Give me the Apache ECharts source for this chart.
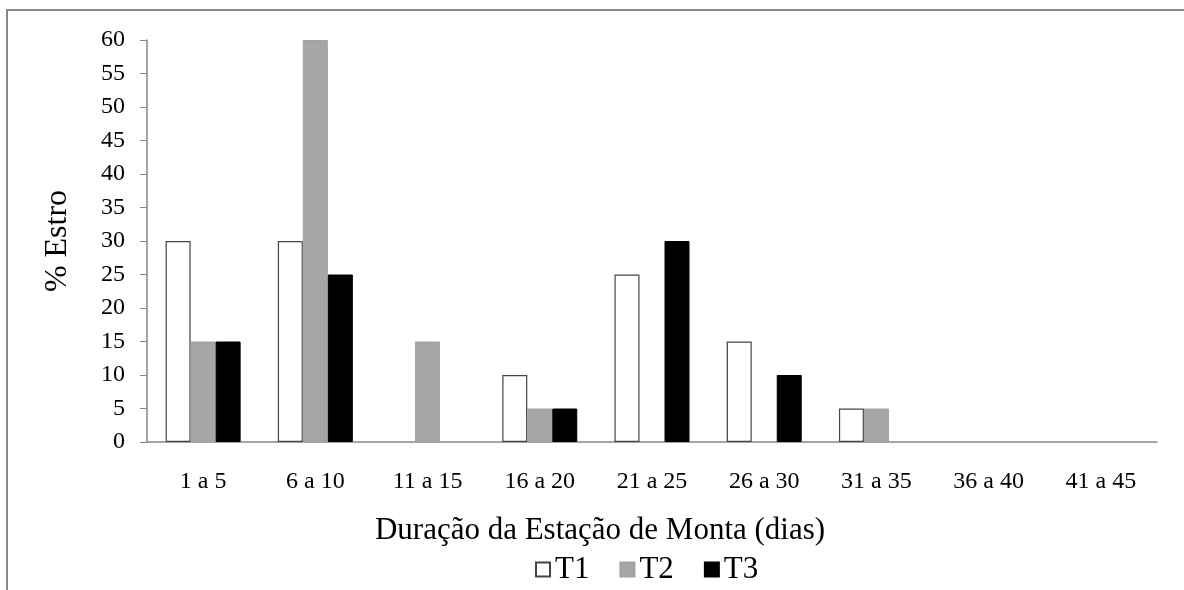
<!DOCTYPE html>
<html><head><meta charset="utf-8">
<script src="https://cdn.jsdelivr.net/npm/echarts@6/dist/echarts.min.js"></script>
<style>html,body{margin:0;padding:0;background:#fff}#c{width:1184px;height:590px}</style>
</head><body><div id="c"></div>
<script>
const categories = ['1 a 5','6 a 10','11 a 15','16 a 20','21 a 25','26 a 30','31 a 35','36 a 40','41 a 45'];
const t1 = [30,30,0,10,25,15,5,0,0];
const t2 = [15,60,15,5,0,0,5,0,0];
const t3 = [15,25,0,5,30,10,0,0,0];
const yTicks = [0,5,10,15,20,25,30,35,40,45,50,55,60];

const font = 'Liberation Serif';
const hideZero = arr => arr.map(v => v === 0 ? null : v);
const chart = echarts.init(document.getElementById('c'), null, {renderer:'canvas'});
chart.setOption({
  animation:false,
  backgroundColor:'#fff',
  graphic:[{type:'rect',shape:{x:7,y:10,width:1200,height:600},style:{fill:'none',stroke:'#888',lineWidth:2}}],
  grid:{left:147,right:27,top:40,bottom:148},
  legend:{
    data:['T1','T2','T3'],
    left:530, top:549, itemWidth:14, itemHeight:14, itemGap:30,
    icon:'rect',
    textStyle:{fontFamily:font,fontSize:31,color:'#000'},
    selectedMode:false
  },
  xAxis:{
    type:'category', data:categories,
    axisLine:{lineStyle:{color:'#888',width:1.5}},
    axisTick:{alignWithLabel:false,length:7,lineStyle:{color:'#888'}},
    axisLabel:{fontFamily:font,fontSize:24,color:'#000',margin:28,interval:0},
    name:'Duração da Estação de Monta (dias)', nameLocation:'middle', nameGap:73,
    nameTextStyle:{fontFamily:font,fontSize:31,color:'#000',padding:[0,104,0,0]}
  },
  yAxis:{
    type:'value', min:yTicks[0], max:yTicks[yTicks.length-1], interval:5,
    axisLine:{show:true,lineStyle:{color:'#888',width:1.5}},
    axisTick:{show:true,inside:false,length:7,lineStyle:{color:'#888'}},
    splitLine:{show:false},
    axisLabel:{fontFamily:font,fontSize:24,color:'#000',margin:22},
    name:'% Estro', nameLocation:'middle', nameGap:73, nameRotate:90,
    nameTextStyle:{fontFamily:font,fontSize:32,color:'#000'}
  },
  series:[
    {name:'T1',type:'bar',data:hideZero(t1),barWidth:25,barGap:'0%',
     itemStyle:{color:'#fff',borderColor:'#444',borderWidth:1.2}},
    {name:'T2',type:'bar',data:hideZero(t2),barWidth:25,barGap:'0%',
     itemStyle:{color:'#a6a6a6',borderColor:'#a0a0a0',borderWidth:1}},
    {name:'T3',type:'bar',data:hideZero(t3),barWidth:25,barGap:'0%',
     itemStyle:{color:'#000',borderColor:'#000',borderWidth:1}}
  ]
});
</script></body></html>
